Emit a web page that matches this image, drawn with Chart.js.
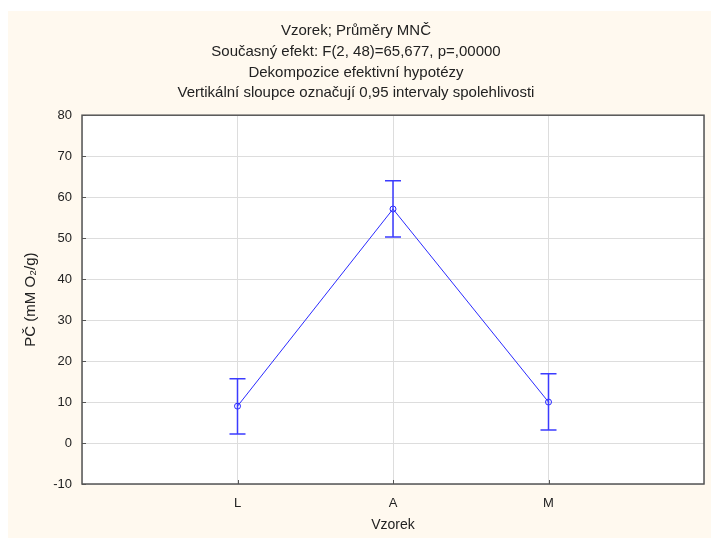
<!DOCTYPE html>
<html>
<head>
<meta charset="utf-8">
<script src="https://cdn.jsdelivr.net/npm/chart.js@4"></script>
<style>
  html, body { margin: 0; padding: 0; background: #ffffff; }
  #wrap { position: relative; width: 711px; height: 538px; }
</style>
</head>
<body>
<div id="wrap"><canvas id="chart"></canvas></div>
<script>
// Means with 0.95 confidence intervals per sample group
const categories = ['L', 'A', 'M'];
const means = [9.0, 57.1, 10.0];
const ciLower = [2.2, 50.3, 3.2];
const ciUpper = [15.7, 64.0, 16.9];
const titleLines = [
    'Vzorek; Průměry MNČ',
    'Současný efekt: F(2, 48)=65,677, p=,00000',
    'Dekompozice efektivní hypotézy',
    'Vertikální sloupce označují 0,95 intervaly spolehlivosti'
];

const FONT = "'Liberation Sans', Arial, sans-serif";
const BLUE = '#2a2aff';

// cream panel behind the plot, white plot area, frame, inner ticks, error bars
const statPlot = {
    id: 'statPlot',
    beforeDraw(chart) {
        const ctx = chart.ctx, a = chart.chartArea;
        ctx.save();
        ctx.fillStyle = '#fff9ef';
        ctx.fillRect(8, 11, chart.width - 8, chart.height - 11);
        ctx.fillStyle = '#ffffff';
        ctx.fillRect(a.left, a.top, a.right - a.left, a.bottom - a.top);
        ctx.restore();
    },
    afterDatasetsDraw(chart) {
        const ctx = chart.ctx, a = chart.chartArea;
        const xs = chart.scales.x, ys = chart.scales.y;
        ctx.save();
        // error bars
        ctx.strokeStyle = '#3b3bff';
        ctx.lineWidth = 1.5;
        categories.forEach((c, i) => {
            const x = xs.getPixelForValue(i + 1);
            const yl = ys.getPixelForValue(ciLower[i]);
            const yu = ys.getPixelForValue(ciUpper[i]);
            ctx.beginPath();
            ctx.moveTo(x, yl); ctx.lineTo(x, yu);
            ctx.moveTo(x - 8, yl); ctx.lineTo(x + 8, yl);
            ctx.moveTo(x - 8, yu); ctx.lineTo(x + 8, yu);
            ctx.stroke();
        });
        // short tick marks inside the frame
        ctx.strokeStyle = '#555555';
        ctx.lineWidth = 1;
        ys.ticks.forEach(t => {
            const y = Math.round(ys.getPixelForValue(t.value)) + 0.5;
            ctx.beginPath(); ctx.moveTo(a.left, y); ctx.lineTo(a.left + 4, y); ctx.stroke();
        });
        categories.forEach((c, i) => {
            const x = Math.round(xs.getPixelForValue(i + 1)) + 0.5;
            ctx.beginPath(); ctx.moveTo(x, a.bottom); ctx.lineTo(x, a.bottom - 4); ctx.stroke();
        });
        // frame
        ctx.strokeStyle = '#555555';
        ctx.lineWidth = 1.5;
        ctx.strokeRect(a.left, a.top, a.right - a.left, a.bottom - a.top);
        ctx.restore();
    }
};

new Chart(document.getElementById('chart'), {
    type: 'line',
    data: {
        datasets: [{
            data: means.map((m, i) => ({ x: i + 1, y: m })),
            borderColor: BLUE,
            borderWidth: 1,
            pointRadius: 3,
            pointBorderWidth: 1,
            pointBackgroundColor: 'rgba(255,255,255,0)',
            pointBorderColor: BLUE,
            tension: 0
        }]
    },
    options: {
        responsive: true,
        maintainAspectRatio: false,
        animation: false,
        layout: { padding: { left: 8, right: 7, top: 11, bottom: 0 } },
        plugins: {
            legend: { display: false },
            tooltip: { enabled: false },
            title: {
                display: true,
                text: titleLines,
                color: '#222222',
                font: { family: FONT, size: 15, weight: 'normal', lineHeight: 1.37 },
                padding: { top: 10, bottom: 12 }
            }
        },
        scales: {
            x: {
                type: 'linear',
                min: 0,
                max: 4,
                afterFit: s => { s.height = 54; s.paddingLeft = 0; s.paddingRight = 0; },
                border: { display: false },
                grid: { color: '#dddddd', drawTicks: false },
                ticks: {
                    stepSize: 1,
                    padding: 12,
                    color: '#222222',
                    font: { family: FONT, size: 13 },
                    callback: v => categories[v - 1] || ''
                },
                title: {
                    display: true,
                    text: 'Vzorek',
                    color: '#222222',
                    font: { family: FONT, size: 14 },
                    padding: { top: 0, bottom: 4 }
                }
            },
            y: {
                min: -10,
                max: 80,
                afterFit: s => { s.width = 74; s.paddingTop = 0; s.paddingBottom = 0; },
                border: { display: false },
                grid: { color: '#dddddd', drawTicks: false },
                ticks: {
                    stepSize: 10,
                    padding: 10,
                    color: '#222222',
                    font: { family: FONT, size: 13 }
                },
                title: {
                    display: true,
                    text: 'PČ (mM O₂/g)',
                    color: '#222222',
                    font: { family: FONT, size: 15 },
                    padding: { top: 14, bottom: 0 }
                }
            }
        }
    },
    plugins: [statPlot]
});
</script>
</body>
</html>
